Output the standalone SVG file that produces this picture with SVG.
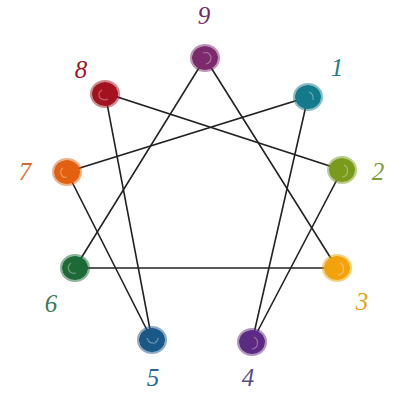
<svg xmlns="http://www.w3.org/2000/svg" width="395" height="393" viewBox="0 0 395 393">
<style>
.ln{stroke:#222;stroke-width:1.6;fill:none;stroke-linecap:round}
.lb{font-family:"Liberation Serif",serif;font-style:italic;font-size:25px;text-anchor:middle}
.hl{fill:none;stroke:#fff;stroke-opacity:0.35;stroke-width:1.2}
.rim{fill:none;stroke-opacity:0.5;stroke-width:2}
</style>
<rect width="395" height="393" fill="#fff"/>
<g id="connectors">
<path class="ln" d="M205 58 L337 268 L75 268 Z"/>
<path class="ln" d="M308 97 L252 342 L342 170 L105 93 L152 340 L67 172 Z"/>
</g>
<g id="n9"><ellipse cx="205" cy="58" rx="13" ry="12" fill="#7b2a6c"/><ellipse class="rim" cx="205" cy="58" rx="14" ry="13" stroke="#7b2a6c"/><path class="hl" d="M203 53 q6 -2 8 4 q0 6 -5 7"/><text class="lb" x="204" y="24" fill="#6d2c68">9</text></g>
<g id="n8"><ellipse cx="105" cy="94" rx="13" ry="12" fill="#a3121f"/><ellipse class="rim" cx="105" cy="94" rx="14" ry="13" stroke="#a3121f"/><path class="hl" d="M102 90 q-5 3 -2 8 q4 3 8 1"/><text class="lb" x="81" y="78" fill="#a3121f">8</text></g>
<g id="n1"><ellipse cx="308" cy="97" rx="13" ry="12" fill="#137a8c"/><ellipse class="rim" cx="308" cy="97" rx="14" ry="13" stroke="#137a8c"/><path class="hl" d="M309 92 q5 2 4 8"/><text class="lb" x="337" y="76" fill="#17808e">1</text></g>
<g id="n7"><ellipse cx="67" cy="172" rx="13" ry="12" fill="#e2600f"/><ellipse class="rim" cx="67" cy="172" rx="14" ry="13" stroke="#e2600f"/><path class="hl" d="M63 168 q-4 3 -1 8 q2 2 5 1"/><text class="lb" x="25" y="180" fill="#d9692a">7</text></g>
<g id="n2"><ellipse cx="342" cy="170" rx="13" ry="12" fill="#7a9a1c"/><ellipse class="rim" cx="342" cy="170" rx="14" ry="13" stroke="#7a9a1c"/><path class="hl" d="M344 165 q5 3 3 9 q-2 3 -5 3"/><text class="lb" x="378" y="180" fill="#7c9a3a">2</text></g>
<g id="n6"><ellipse cx="75" cy="268" rx="13" ry="12" fill="#1e6a36"/><ellipse class="rim" cx="75" cy="268" rx="14" ry="13" stroke="#1e6a36"/><path class="hl" d="M71 263 q-5 4 -1 9 q3 2 6 1"/><text class="lb" x="51" y="312" fill="#3b7a5a">6</text></g>
<g id="n3"><ellipse cx="337" cy="268" rx="13" ry="12" fill="#f2a20a"/><ellipse class="rim" cx="337" cy="268" rx="14" ry="13" stroke="#f2a20a"/><path class="hl" d="M340 263 q5 3 3 9 q-2 3 -5 3"/><text class="lb" x="362" y="310" fill="#e4a21c">3</text></g>
<g id="n5"><ellipse cx="152" cy="340" rx="13" ry="12" fill="#1a5888"/><ellipse class="rim" cx="152" cy="340" rx="14" ry="13" stroke="#1a5888"/><path class="hl" d="M147 338 q2 6 8 5 q3 -2 3 -5"/><text class="lb" x="153" y="386" fill="#2a6890">5</text></g>
<g id="n4"><ellipse cx="252" cy="342" rx="13" ry="12" fill="#5b2a82"/><ellipse class="rim" cx="252" cy="342" rx="14" ry="13" stroke="#5b2a82"/><path class="hl" d="M254 337 q5 3 3 9 q-2 3 -5 3"/><text class="lb" x="248" y="386" fill="#5c4a86">4</text></g>
</svg>
